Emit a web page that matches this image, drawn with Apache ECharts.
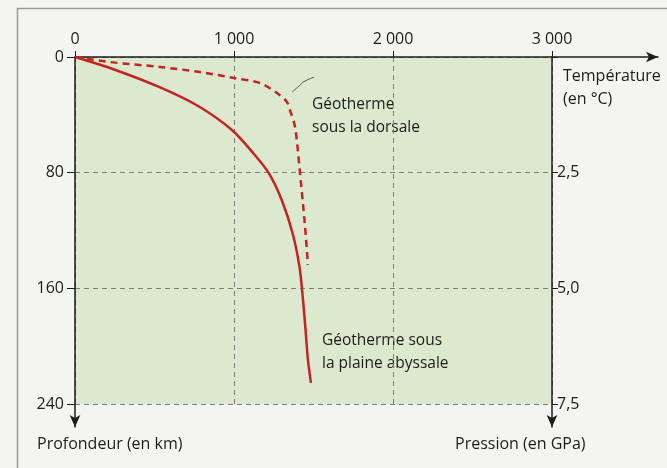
<!DOCTYPE html>
<html><head><meta charset="utf-8">
<script src="https://cdn.jsdelivr.net/npm/echarts@6/dist/echarts.min.js"></script>
<style>html,body{margin:0;padding:0;background:#f4f5f1;}#c{width:667px;height:468px;}</style>
</head><body><div id="c"></div>
<script>
// Temperature axis ticks (°C), depth ticks (km), pressure ticks (GPa)
var tempTicks = [0, 1000, 2000, 3000];
var depthTicks = [0, 80, 160, 240];
var pressureTicks = [0, 2.5, 5.0, 7.5];

// Géotherme sous la plaine abyssale (solid)
var abyssDepth = [0, 7.6, 20.7, 33.9, 50.5, 66.4, 80.2, 98.9, 121.7, 145.2, 168.0, 188.8, 209.5, 225.4];
var abyssTemp  = [0, 220, 528, 774, 987, 1120, 1218, 1300, 1368, 1412, 1434, 1450, 1465, 1484];

// Géotherme sous la dorsale (dashed)
var ridgeDepth = [0, 3.5, 6.9, 10.4, 14.5, 18.0, 24.9, 31.1, 36.7, 48.4, 80.2, 117.6, 143.8];
var ridgeTemp  = [0, 220, 535, 786, 1000, 1164, 1270, 1333, 1352, 1384, 1415, 1447, 1465];

// leader line from dorsale curve to its label
var leaderTemp  = [1365, 1420, 1434, 1503];
var leaderDepth = [24.3, 19, 17.4, 13.9];

function pairs(xs, ys){ return xs.map(function(x,i){ return [x, ys[i]]; }); }

var FONT = 'Open Sans';
var AX = '#1c1c1c';
var lineAxis = function(extra){
  return Object.assign({
    type: 'value', min: 0, max: 1,
    axisLine: {show: true, onZero: false, symbol: ['none','arrow'], symbolSize: [8, 12], lineStyle: {color: AX, width: 1.5}},
    axisTick: {show: false}, axisLabel: {show: false}, splitLine: {show: false}
  }, extra);
};
var chart = echarts.init(document.getElementById('c'));
chart.setOption({
  backgroundColor: '#f4f5f1',
  animation: false,
  grid: [
    {left: 75, top: 57, width: 477, height: 347, show: true, backgroundColor: '#dde9cf', borderWidth: 0},
    {left: 75, top: 57, width: 583, height: 347},
    {left: 75, top: 57, width: 477, height: 370}
  ],
  xAxis: [
    {gridIndex: 0, type: 'value', position: 'top', min: tempTicks[0], max: tempTicks[3], interval: 1000,
     axisLine: {show: false, onZero: false},
     axisTick: {show: true, inside: false, length: 6, lineStyle: {color: AX, width: 1}},
     axisLabel: {margin: 10, fontFamily: FONT, fontSize: 16, color: AX,
       formatter: function(v){ return v === 0 ? '0' : String(v).replace(/(\d)(\d{3})$/, '$1 $2'); }},
     splitLine: {show: true, lineStyle: {color: '#7d7d7d', type: [5,4], width: 1}}},
    lineAxis({gridIndex: 1, position: 'top'}),
    {gridIndex: 2, type: 'value', show: false, min: 0, max: 1}
  ],
  yAxis: [
    {gridIndex: 0, type: 'value', inverse: true, position: 'left', min: depthTicks[0], max: depthTicks[3], interval: 80,
     axisLine: {show: false, onZero: false},
     axisTick: {show: true, inside: false, length: 8, lineStyle: {color: AX, width: 1}},
     axisLabel: {margin: 11, fontFamily: FONT, fontSize: 16, color: AX},
     splitLine: {show: true, lineStyle: {color: '#7d7d7d', type: [5,4], width: 1}}},
    {gridIndex: 0, type: 'value', inverse: true, position: 'right', min: pressureTicks[0], max: pressureTicks[3], interval: 2.5,
     axisLine: {show: false, onZero: false},
     axisTick: {show: true, inside: false, length: 6, lineStyle: {color: AX, width: 1}},
     axisLabel: {margin: 5, fontFamily: FONT, fontSize: 16, color: AX,
       formatter: function(v){ return v === 0 ? '' : v.toFixed(1).replace('.', ','); }},
     splitLine: {show: false}},
    {gridIndex: 1, type: 'value', show: false, min: 0, max: 1},
    lineAxis({gridIndex: 2, position: 'left', axisLine: {show: true, onZero: false, symbol: ['arrow','none'], symbolSize: [8, 12], lineStyle: {color: AX, width: 1.5}}}),
    lineAxis({gridIndex: 2, position: 'right', axisLine: {show: true, onZero: false, symbol: ['arrow','none'], symbolSize: [8, 12], lineStyle: {color: AX, width: 1.5}}})
  ],
  series: [
    {type: 'line', xAxisIndex: 0, yAxisIndex: 0, data: pairs(abyssTemp, abyssDepth), smooth: 0.3,
     showSymbol: false, lineStyle: {color: '#c42420', width: 2.5}, z: 5},
    {type: 'line', xAxisIndex: 0, yAxisIndex: 0, data: pairs(ridgeTemp, ridgeDepth), smooth: 0.3,
     showSymbol: false, lineStyle: {color: '#c42420', width: 2.5, type: [7, 5]}, z: 5},
    {type: 'line', xAxisIndex: 0, yAxisIndex: 0, data: pairs(leaderTemp, leaderDepth), smooth: 0.5,
     showSymbol: false, lineStyle: {color: '#3f5a72', width: 1}, z: 4}
  ],
  graphic: [
    {type: 'rect', left: 15, top: 6, shape: {width: 700, height: 500}, style: {fill: 'none', stroke: '#9a9a9a', lineWidth: 1.5}, z: -1},
    {type: 'text', left: 312, top: 93, style: {text: 'Géotherme\nsous la dorsale', font: '15.5px "Open Sans"', fill: AX, lineHeight: 23}},
    {type: 'text', left: 322, top: 329, style: {text: 'Géotherme sous\nla plaine abyssale', font: '15.5px "Open Sans"', fill: AX, lineHeight: 23}},
    {type: 'text', left: 563, top: 65, style: {text: 'Température\n(en °C)', font: '16px "Open Sans"', fill: AX, lineHeight: 23}},
    {type: 'text', left: 37, top: 436, style: {text: 'Profondeur (en km)', font: '16px "Open Sans"', fill: AX}},
    {type: 'text', left: 455, top: 436, style: {text: 'Pression (en GPa)', font: '16px "Open Sans"', fill: AX}}
  ]
});
</script></body></html>
